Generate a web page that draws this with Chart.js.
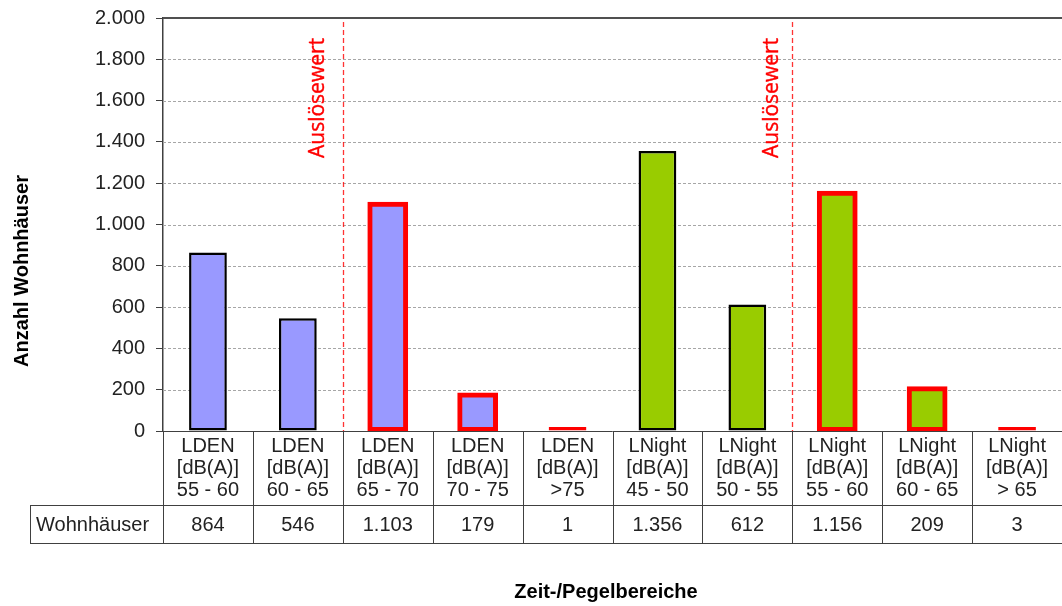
<!DOCTYPE html>
<html><head><meta charset="utf-8">
<script src="https://cdn.jsdelivr.net/npm/chart.js@4.4.0/dist/chart.umd.min.js"></script>
<style>html,body{margin:0;padding:0;background:#fff;overflow:hidden}#wrap{width:1062px;height:606px;position:relative}</style>
</head><body><div id="wrap"><canvas id="c" width="1062" height="606"></canvas></div>
<script>
// ---- data ----
const categories = [
  ['LDEN','[dB(A)]','55 - 60'],
  ['LDEN','[dB(A)]','60 - 65'],
  ['LDEN','[dB(A)]','65 - 70'],
  ['LDEN','[dB(A)]','70 - 75'],
  ['LDEN','[dB(A)]','>75'],
  ['LNight','[dB(A)]','45 - 50'],
  ['LNight','[dB(A)]','50 - 55'],
  ['LNight','[dB(A)]','55 - 60'],
  ['LNight','[dB(A)]','60 - 65'],
  ['LNight','[dB(A)]','> 65']
];
const houses = [864, 546, 1103, 179, 1, 1356, 612, 1156, 209, 3];
const exceedsTrigger = [false, false, true, true, true, false, false, true, true, true];
const yTickValues = [0, 200, 400, 600, 800, 1000, 1200, 1400, 1600, 1800, 2000];
const triggerAfterIndex = [1, 6];
const triggerLabel = 'Auslösewert';
const rowLabel = 'Wohnhäuser';
const yTitle = 'Anzahl Wohnhäuser';
const xTitle = 'Zeit-/Pegelbereiche';

// ---- styles ----
const BLUE = '#9999FF', GREEN = '#99CC00', RED = '#FF0000', BLACK = '#000000';
const TEXT = '#222222', LINE = '#404040';
const FONT = 'Liberation Sans, Arial, sans-serif';

function fmt(v) { return String(v).replace(/\B(?=(\d{3})+(?!\d))/g, '.'); }

const overlay = {
  id: 'overlay',
  beforeDatasetsDraw(chart) {
    const {ctx, chartArea: a, scales: {x, y}} = chart;
    ctx.save();
    ctx.strokeStyle = '#a6a6a6';
    ctx.lineWidth = 1;
    ctx.setLineDash([3, 2]);
    yTickValues.forEach(v => {
      if (v === yTickValues[0] || v === yTickValues[yTickValues.length - 1]) return;
      const py = Math.round(y.getPixelForValue(v)) + 0.5;
      ctx.beginPath(); ctx.moveTo(a.left, py); ctx.lineTo(a.right, py); ctx.stroke();
    });
    ctx.setLineDash([]);
    ctx.strokeStyle = '#505050';
    ctx.lineWidth = 2;
    const top = Math.round(y.getPixelForValue(yTickValues[yTickValues.length - 1]));
    ctx.beginPath(); ctx.moveTo(a.left, top); ctx.lineTo(a.right, top); ctx.stroke();
    ctx.strokeStyle = 'rgba(255,0,0,0.8)';
    ctx.lineWidth = 1.3;
    ctx.setLineDash([5, 3]);
    const textOffsets = [20, 15];
    triggerAfterIndex.forEach((idx, k) => {
      const px = Math.round((x.getPixelForValue(idx) + x.getPixelForValue(idx + 1)) / 2) + 0.5;
      ctx.beginPath(); ctx.moveTo(px, a.top + 4); ctx.lineTo(px, a.bottom); ctx.stroke();
      ctx.save();
      ctx.translate(px - textOffsets[k], 98);
      ctx.rotate(-Math.PI / 2);
      ctx.fillStyle = RED;
      ctx.strokeStyle = RED;
      ctx.lineWidth = 0.4;
      ctx.setLineDash([]);
      ctx.font = '21px "Open Sans", sans-serif';
      ctx.textAlign = 'center';
      ctx.textBaseline = 'alphabetic';
      ctx.fillText(triggerLabel, 0, 0);
      ctx.strokeText(triggerLabel, 0, 0);
      ctx.restore();
    });
    ctx.restore();
  },
  afterDraw(chart) {
    const {ctx, chartArea: a, scales: {x, y}} = chart;
    const n = categories.length;
    const half = (x.getPixelForValue(1) - x.getPixelForValue(0)) / 2;
    const rowTop = 505, rowBottom = 543, rowLeft = 30;
    ctx.save();
    ctx.strokeStyle = LINE;
    ctx.lineWidth = 1;
    ctx.setLineDash([]);
    const b = Math.round(a.bottom) + 0.5;
    ctx.beginPath(); ctx.moveTo(a.left, b); ctx.lineTo(a.right, b); ctx.stroke();
    [rowTop, rowBottom].forEach(ry => {
      ctx.beginPath(); ctx.moveTo(rowLeft, ry + 0.5); ctx.lineTo(a.right, ry + 0.5); ctx.stroke();
    });
    ctx.beginPath(); ctx.moveTo(rowLeft + 0.5, rowTop); ctx.lineTo(rowLeft + 0.5, rowBottom + 1); ctx.stroke();
    for (let i = 0; i <= n; i++) {
      const px = Math.round(x.getPixelForValue(0) - half + i * 2 * half) + 0.5;
      if (px > a.right) continue;
      ctx.beginPath(); ctx.moveTo(px, b); ctx.lineTo(px, rowBottom + 1); ctx.stroke();
    }
    ctx.fillStyle = TEXT;
    ctx.font = '20px ' + FONT;
    ctx.textAlign = 'center';
    ctx.textBaseline = 'middle';
    houses.forEach((v, i) => ctx.fillText(fmt(v), x.getPixelForValue(i), (rowTop + rowBottom) / 2 + 1));
    ctx.textAlign = 'left';
    ctx.fillText(rowLabel, rowLeft + 6, (rowTop + rowBottom) / 2 + 1);
    ctx.fillStyle = '#000';
    ctx.font = 'bold 20px ' + FONT;
    ctx.textAlign = 'center';
    ctx.fillText(xTitle, 606, 592);
    ctx.save();
    ctx.translate(22, 271);
    ctx.rotate(-Math.PI / 2);
    ctx.fillText(yTitle, 0, 0);
    ctx.restore();
    ctx.restore();
  }
};

new Chart(document.getElementById('c'), {
  type: 'bar',
  data: {
    labels: categories,
    datasets: [{
      data: houses,
      backgroundColor: categories.map(c => c[0] === 'LDEN' ? BLUE : GREEN),
      borderColor: exceedsTrigger.map(e => e ? RED : BLACK),
      borderWidth: exceedsTrigger.map(e => e ? 5 : 2.5),
      inflateAmount: ctx => (exceedsTrigger[ctx.dataIndex] && houses[ctx.dataIndex] >= 20) ? 1.5 : 0,
      borderSkipped: false,
      barPercentage: 0.42,
      categoryPercentage: 1,
      minBarLength: 4
    }]
  },
  options: {
    responsive: false,
    animation: false,
    devicePixelRatio: 1,
    layout: {padding: {top: 18, left: 0, right: 0, bottom: 0}},
    plugins: {legend: {display: false}, tooltip: {enabled: false}, title: {display: false}},
    scales: {
      x: {
        type: 'category',
        offset: true,
        grid: {display: false, drawTicks: false},
        border: {display: false},
        ticks: {color: TEXT, font: {family: FONT, size: 20, lineHeight: 1.1}, padding: 4, maxRotation: 0, minRotation: 0, autoSkip: false},
        afterFit(s) { s.height = 175; s.paddingLeft = 0; s.paddingRight = 0; }
      },
      y: {
        min: 0, max: 2000,
        afterBuildTicks(s) { s.ticks = yTickValues.map(v => ({value: v})); },
        ticks: {color: TEXT, font: {family: FONT, size: 20}, padding: 11, callback: v => fmt(v)},
        grid: {drawOnChartArea: false, drawTicks: true, tickLength: 7, tickColor: LINE, tickWidth: 1},
        border: {display: true, color: LINE, width: 1.5},
        afterFit(s) { s.width = 163; s.paddingTop = 0; s.paddingBottom = 0; }
      }
    }
  },
  plugins: [overlay]
});
</script>
</body></html>
